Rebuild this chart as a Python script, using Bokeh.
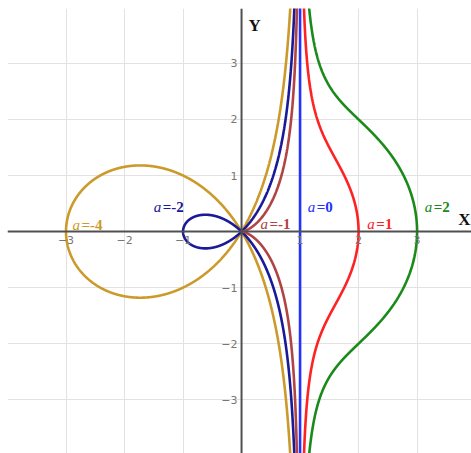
import numpy as np
from bokeh.plotting import figure
from bokeh.models import Span, Range1d
from bokeh.core.properties import value
from bokeh.embed import file_html
from bokeh.resources import INLINE

# Conchoid of de Sluze family: (x - 1)(x^2 + y^2) = a x^2
a_values = [-4, -2, -1, 0, 1, 2]
curve_colors = ["#cc9a2a", "#1a1a99", "#b04444", "#2233ff", "#ff2222", "#1a8a1a"]
label_texts = ["=-4", "=-2", "=-1", "=0", "=1", "=2"]

x_ticks = [-3, -2, -1, 1, 2, 3]
y_ticks = [-3, -2, -1, 1, 2, 3]
tick_text_x = ["\u22123", "\u22122", "\u22121", "1", "2", "3"]
tick_text_y = ["\u22123", "\u22122", "\u22121", "1", "2", "3"]

p = figure(width=471, height=453, output_backend="svg", toolbar_location=None,
           x_range=Range1d(-4.0, 3.93), y_range=Range1d(-3.96, 3.98),
           min_border_left=7, min_border_top=8, min_border_right=0, min_border_bottom=0)
p.outline_line_color = None
p.xaxis.visible = False
p.yaxis.visible = False
p.xgrid.ticker = list(range(-4, 5))
p.ygrid.ticker = list(range(-4, 5))
p.xgrid.grid_line_color = "#e2e2e2"
p.ygrid.grid_line_color = "#e2e2e2"

# coordinate axes through the origin
p.add_layout(Span(location=0, dimension="width", line_color="#505050", line_width=2))
p.add_layout(Span(location=0, dimension="height", line_color="#505050", line_width=2))

# polar form r = sec(t) + a cos(t)
t = np.linspace(-1.52, 1.52, 3001)
for a, c in zip(a_values, curve_colors):
    if a == 0:
        p.line([1, 1], [-5, 5], line_color=c, line_width=2.6)
        continue
    r = 1 / np.cos(t) + a * np.cos(t)
    p.line(r * np.cos(t), r * np.sin(t), line_color=c, line_width=2.6)

# tick labels
p.text(x=x_ticks, y=[0] * len(x_ticks), text=tick_text_x, text_align="center",
       text_baseline="top", y_offset=4, text_font=value("DejaVu Sans"),
       text_font_size="11px", text_color="#777777")
p.text(x=[0] * len(y_ticks), y=y_ticks, text=tick_text_y, text_align="right",
       text_baseline="middle", x_offset=-4, text_font=value("DejaVu Sans"),
       text_font_size="11px", text_color="#777777")

# axis names
p.text(x=[3.93], y=[0], text=["X"], text_align="right", text_baseline="bottom",
       x_offset=-1, y_offset=-3, text_font=value("Liberation Serif"),
       text_font_style="bold", text_font_size="17px", text_color="#111111")
p.text(x=[0], y=[3.98], text=["Y"], text_align="left", text_baseline="top",
       x_offset=7, y_offset=7, text_font=value("Liberation Serif"),
       text_font_style="bold", text_font_size="17px", text_color="#111111")

# curve labels: italic "a" followed by the upright value
lab_x = [-2.89, -1.50, 0.325, 1.13, 2.15, 3.13]
lab_y = [0.125, 0.43, 0.14, 0.43, 0.14, 0.43]
p.text(x=lab_x, y=lab_y, text=["a"] * len(lab_x), text_align="left",
       text_baseline="middle", text_font=value("Liberation Serif"),
       text_font_style="italic", text_font_size="15px", text_color=curve_colors)
p.text(x=lab_x, y=lab_y, text=label_texts, text_align="left",
       text_baseline="middle", x_offset=9, text_font=value("Liberation Serif"),
       text_font_style="bold", text_font_size="15px", text_color=curve_colors)

open("out.html", "w").write(file_html(p, INLINE))
